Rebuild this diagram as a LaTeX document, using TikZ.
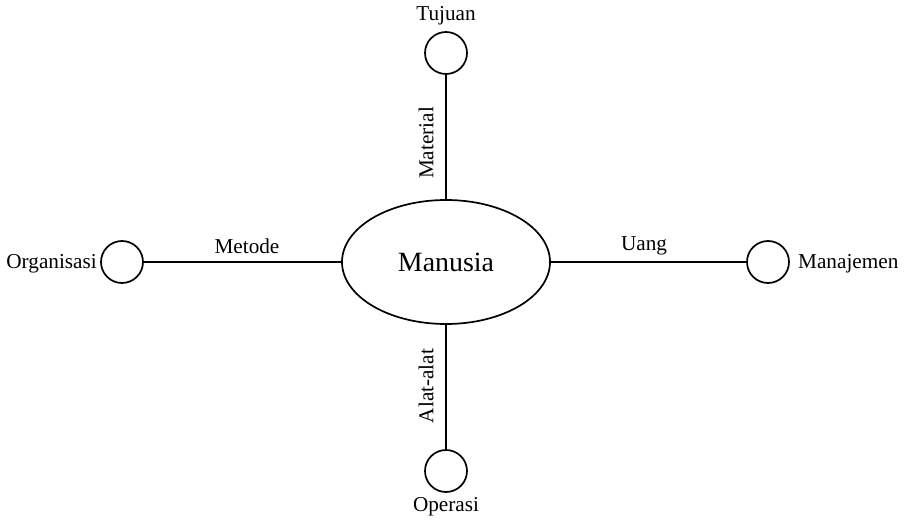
\documentclass[tikz,border=0pt]{standalone}
\usepackage{fontspec}
\setmainfont{Liberation Serif}
\usetikzlibrary{shapes.geometric}
\begin{document}
\begin{tikzpicture}[x=1bp,y=-1bp,
  hub/.style={draw,line width=1.7bp,ellipse,minimum width=208bp,minimum height=124bp,inner sep=0pt,font=\fontsize{28}{31}\selectfont},
  leaf/.style={draw,line width=1.7bp,circle,minimum size=42bp,inner sep=0pt},
  caption/.style={font=\fontsize{21.3}{24}\selectfont,inner sep=0pt},
  link/.style={line width=1.7bp}]
\useasboundingbox (0,0) rectangle (904,521);
% central ellipse and the four satellite circles
\node[hub] (m) at (446,262) {Manusia};
\node[leaf] (t) at (446,53) {};
\node[leaf] (o) at (446,471) {};
\node[leaf] (g) at (122,262) {};
\node[leaf] (j) at (768,262) {};
% satellite names
\node[caption] (tl) at (446,16) {Tujuan};
\node[caption] (ol) at (446,507) {Operasi};
\node[caption,anchor=east] (gl) at (97,264) {Organisasi};
\node[caption,anchor=west] (jl) at (798,264) {Manajemen};
% connectors
\draw[link] (t) -- (m.north);
\draw[link] (m.south) -- (o);
\draw[link] (g) -- (m.west);
\draw[link] (m.east) -- (j);
% connector labels
\node[caption] (lm) at (247,246) {Metode};
\node[caption] (lu) at (644,246) {Uang};
\node[caption,rotate=90] (lma) at (426,143) {Material};
\node[caption,rotate=90] (la) at (426,386) {Alat-alat};
\end{tikzpicture}
\end{document}
